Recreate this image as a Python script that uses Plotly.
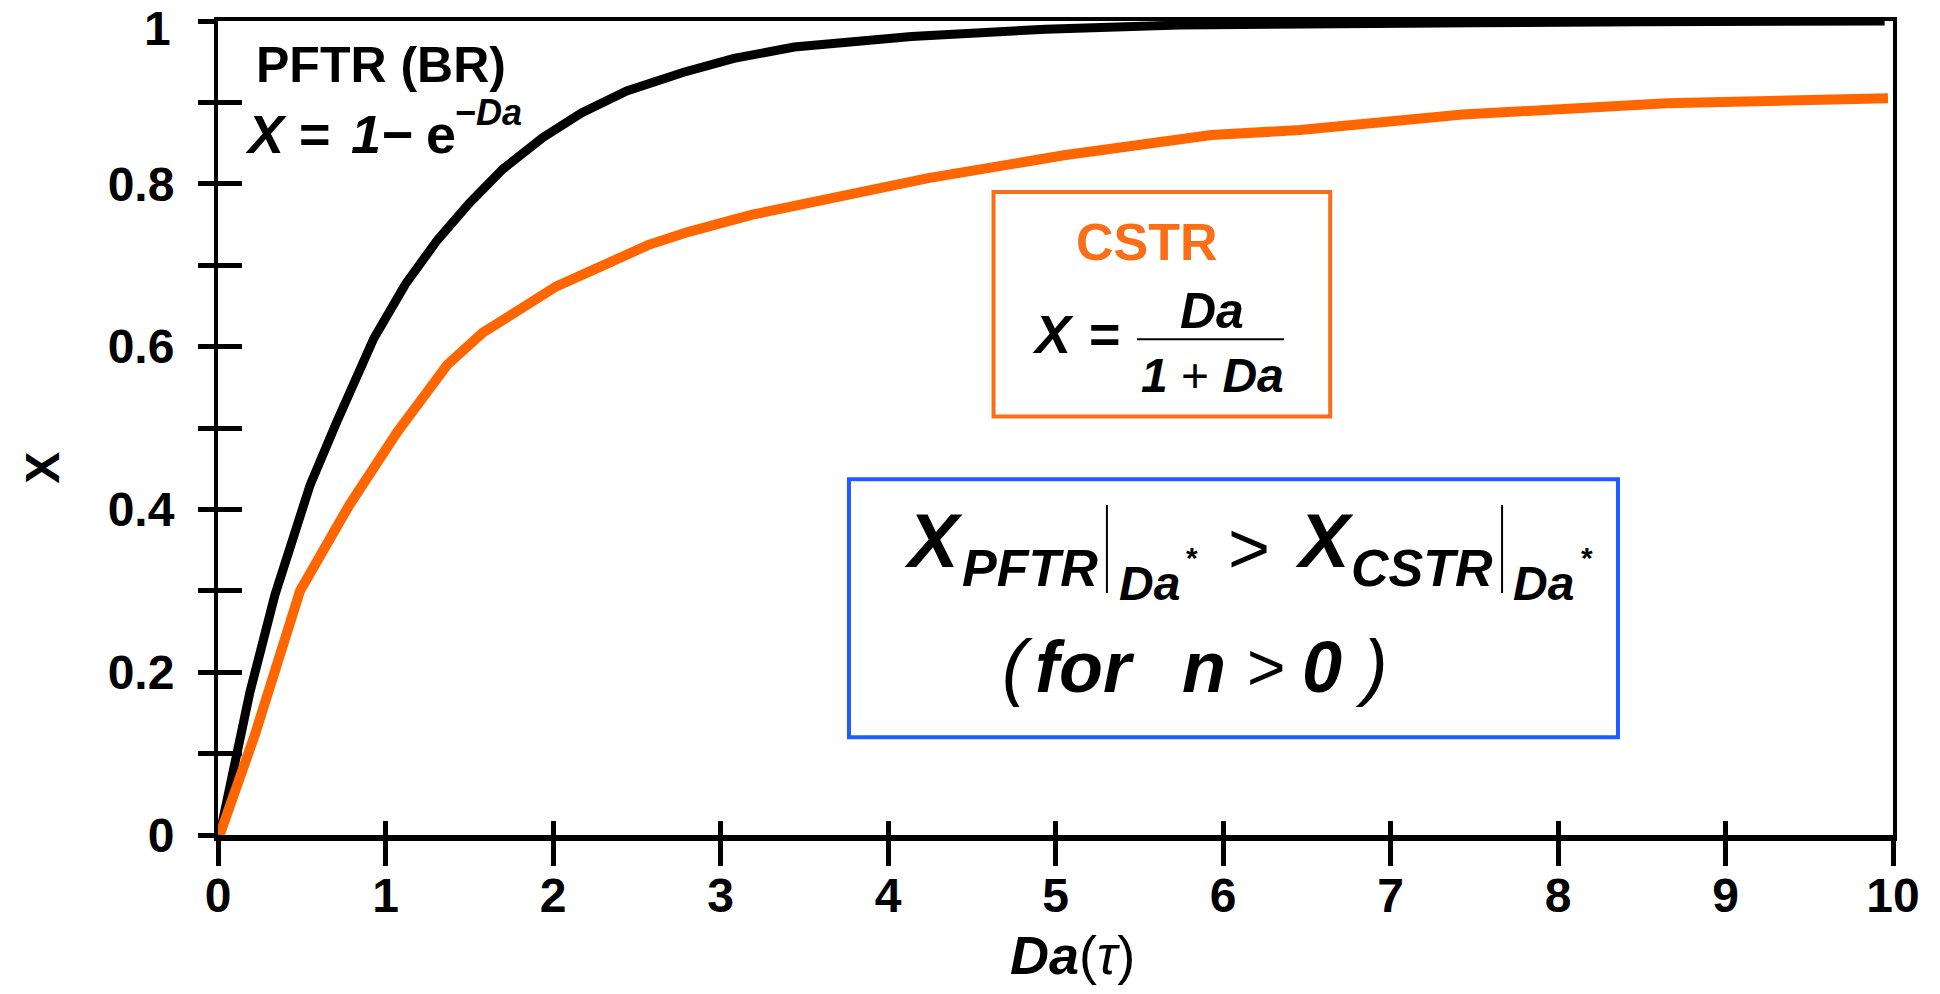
import plotly.graph_objects as go

# Conversion vs. Damkoehler number for the two ideal reactors
pftr_da = [0.01, 0.19, 0.34, 0.55, 0.71, 0.93, 1.12, 1.31, 1.50, 1.70, 1.94, 2.17,
           2.44, 2.78, 3.08, 3.44, 4.14, 4.94, 5.74, 6.50, 7.50, 8.50, 9.95]
pftr_x = [0.0, 0.175, 0.295, 0.43, 0.508, 0.61, 0.677, 0.731, 0.776, 0.818, 0.857, 0.887,
          0.914, 0.937, 0.954, 0.968, 0.981, 0.990, 0.995, 0.997, 0.998, 0.999, 1.0]

cstr_da = [0.01, 0.22, 0.49, 0.78, 1.07, 1.37, 1.58, 2.02, 2.28, 2.57, 2.81, 3.19,
           4.24, 5.05, 5.93, 6.46, 7.43, 8.65, 9.97]
cstr_x = [0.0, 0.123, 0.30, 0.404, 0.495, 0.578, 0.617, 0.674, 0.698, 0.725, 0.741, 0.762,
          0.807, 0.835, 0.86, 0.866, 0.885, 0.899, 0.905]

x_ticks = list(range(0, 11))
y_ticks = [0, 0.1, 0.2, 0.3, 0.4, 0.5, 0.6, 0.7, 0.8, 0.9, 1.0]
# the top label "1" is set a little lower than its tick so it stays on the page
y_ticktext = ["0", "", "0.2", "", "0.4", "", "0.6", "", "0.8", "", ""]
y_top_label = "1"

FONT = "Liberation Sans, Arial, Helvetica, sans-serif"
BLACK = "#000000"
ORANGE_LINE = "#FF6600"
ORANGE_BOX = "#F96E16"
BLUE = "#1F5CFF"

fig = go.Figure()

fig.add_trace(go.Scatter(x=pftr_da, y=pftr_x, mode="lines",
                         line=dict(color=BLACK, width=9), showlegend=False,
                         hoverinfo="skip"))
fig.add_trace(go.Scatter(x=cstr_da, y=cstr_x, mode="lines",
                         line=dict(color=ORANGE_LINE, width=10), showlegend=False,
                         hoverinfo="skip"))

# empty traces that register the overlay axes (inner ticks, top frame line)
fig.add_trace(go.Scatter(x=[], y=[], xaxis="x2", yaxis="y", showlegend=False))
fig.add_trace(go.Scatter(x=[], y=[], xaxis="x", yaxis="y2", showlegend=False))
fig.add_trace(go.Scatter(x=[], y=[], xaxis="x3", yaxis="y", showlegend=False))

tick_font = dict(family=FONT, size=48, color=BLACK, weight="bold")

fig.update_layout(
    width=1940, height=994,
    margin=dict(l=218, r=47, t=21, b=159, autoexpand=False),
    paper_bgcolor="white", plot_bgcolor="white",
    xaxis=dict(range=[0, 10], tickvals=x_ticks, ticks="outside", ticklen=25,
               tickwidth=5, tickcolor=BLACK, showline=True, linewidth=6,
               linecolor=BLACK, showgrid=False, zeroline=False,
               tickfont=tick_font, ticklabelstandoff=-12,
               ticklabeloverflow="allow"),
    xaxis2=dict(range=[0, 10], overlaying="x", anchor="y", side="bottom",
                tickvals=x_ticks, ticks="inside", ticklen=14, tickwidth=5,
                tickcolor=BLACK, showticklabels=False, showline=False,
                showgrid=False, zeroline=False),
    xaxis3=dict(range=[0, 10], overlaying="x", anchor="y", side="top",
                showline=True, linewidth=4, linecolor=BLACK, ticks="",
                showticklabels=False, showgrid=False, zeroline=False),
    yaxis=dict(range=[0, 1], tickvals=y_ticks, ticktext=y_ticktext,
               ticks="outside", ticklen=16, tickwidth=5, tickcolor=BLACK,
               showline=True, linewidth=4, linecolor=BLACK, mirror=True,
               showgrid=False, zeroline=False, tickfont=tick_font,
               ticklabelstandoff=14, ticklabeloverflow="allow"),
    yaxis2=dict(range=[0, 1], overlaying="y", anchor="x", side="left",
                tickvals=y_ticks, ticks="inside", ticklen=24, tickwidth=5,
                tickcolor=BLACK, showticklabels=False, showline=False,
                showgrid=False, zeroline=False),
)


def label(x, y, text, size, color=BLACK, anchor="center", angle=0, ref="data"):
    xr, yr = ("x", "y") if ref == "data" else ("paper", "paper")
    fig.add_annotation(x=x, y=y, xref=xr, yref=yr, text=text, showarrow=False,
                       xanchor=anchor, yanchor="middle", textangle=angle,
                       font=dict(family=FONT, size=size, color=color))


# top y tick label
label(-0.027, 0.991, "<b>%s</b>" % y_top_label, 48, anchor="right", ref="paper")

# axis titles
label(0.5099, -0.1474, "<b><i>Da</i></b>(<i>τ</i>)", 54, ref="paper")
label(-0.1045, 0.451, "<b>X</b>", 48, angle=-90, ref="paper")

# PFTR label and its conversion formula
label(0.215, 0.946, "<b>PFTR (BR)</b>", 50, anchor="left")
label(0.15, 0.861, "<b><i>X</i></b>", 54, anchor="left")
label(0.47, 0.861, "<b>=</b>", 54, anchor="left")
label(0.78, 0.861, "<b><i>1</i></b>", 54, anchor="left")
label(0.97, 0.861, "<b>−</b>", 54, anchor="left")
label(1.23, 0.861, "<b>e</b>", 54, anchor="left")
label(1.40, 0.887, "<b>−<i>Da</i></b>", 36, anchor="left")

# CSTR box
fig.add_shape(type="rect", xref="x", yref="y", x0=4.63, x1=6.64, y0=0.514, y1=0.79,
              line=dict(color=ORANGE_BOX, width=4), fillcolor="rgba(0,0,0,0)")
label(5.546, 0.7285, "<b>CSTR</b>", 52, color=ORANGE_BOX)
label(4.985, 0.615, "<b><i>X</i></b>", 54)
label(5.296, 0.615, "<b>=</b>", 54)
fig.add_shape(type="line", xref="x", yref="y", x0=5.487, x1=6.364, y0=0.609, y1=0.609,
              line=dict(color=BLACK, width=2))
label(5.934, 0.6437, "<b><i>Da</i></b>", 50)
label(5.94, 0.5639, "<b><i>1</i></b> + <b><i>Da</i></b>", 48)

# comparison box
fig.add_shape(type="rect", xref="x", yref="y", x0=3.767, x1=8.358, y0=0.120, y1=0.437,
              line=dict(color=BLUE, width=4), fillcolor="rgba(0,0,0,0)")
for bx in (5.307, 7.666):
    fig.add_shape(type="line", xref="x", yref="y", x0=bx, x1=bx, y0=0.2973, y1=0.4054,
                  line=dict(color=BLACK, width=2))

label(4.269, 0.3612, "<b><i>X</i></b>", 76)
label(4.848, 0.328, "<b><i>PFTR</i></b>", 52)
label(5.564, 0.3084, "<b><i>Da</i></b>", 48)
label(5.815, 0.3415, "<b>*</b>", 30)
label(6.155, 0.3526, ">", 72)
label(6.603, 0.3612, "<b><i>X</i></b>", 76)
label(7.188, 0.328, "<b><i>CSTR</i></b>", 52)
label(7.916, 0.3084, "<b><i>Da</i></b>", 48)
label(8.173, 0.3415, "<b>*</b>", 30)

label(4.776, 0.2064, "<i>(</i>", 74)
label(5.176, 0.2064, "<b><i>for</i></b>", 72)
label(5.887, 0.2064, "<b><i>n</i></b>", 72)
label(6.257, 0.2064, ">", 66)
label(6.591, 0.2064, "<b><i>0</i></b>", 72)
label(6.884, 0.2064, "<i>)</i>", 74)

fig.write_html("out.html")
